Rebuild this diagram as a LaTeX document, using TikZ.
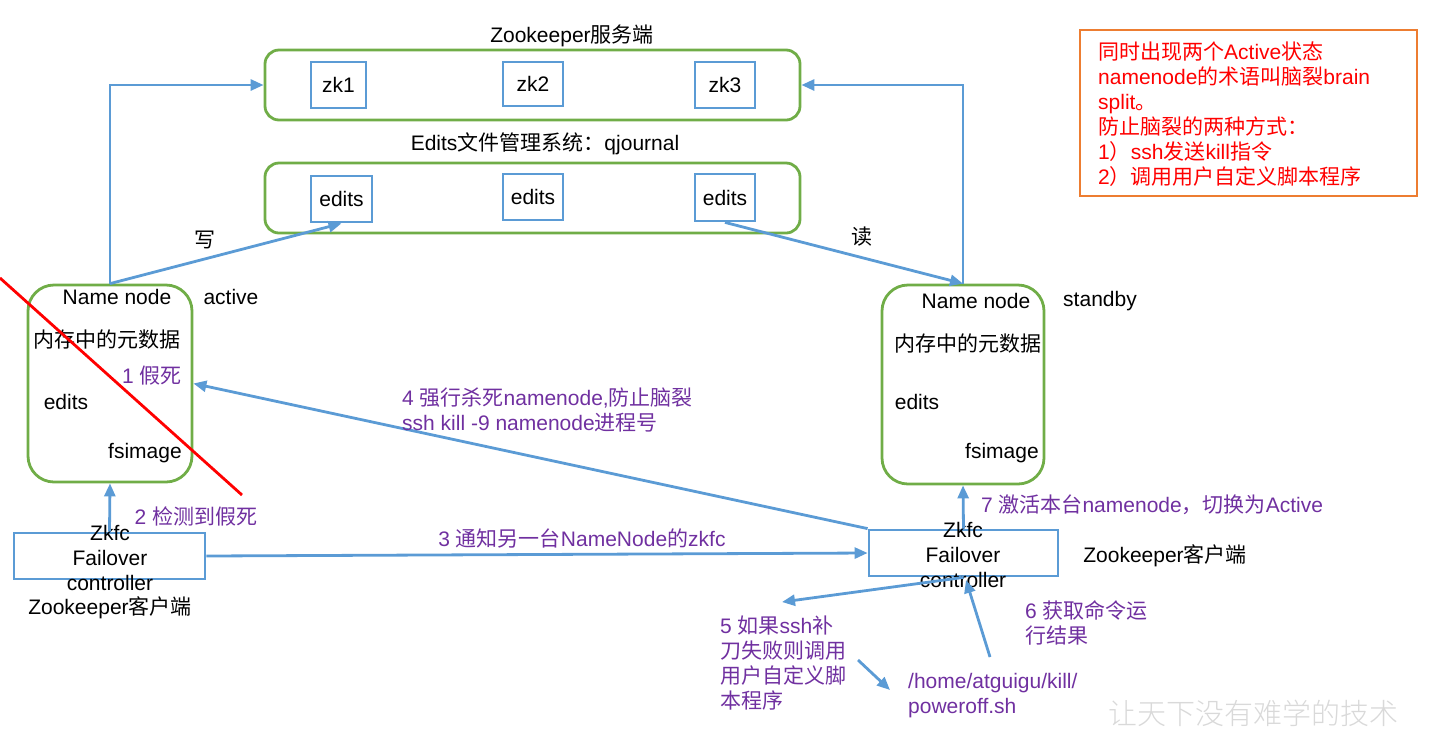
\documentclass[tikz,border=0pt]{standalone}
\usepackage{fontspec}
\setmainfont{Liberation Sans}
\newfontfamily\cjk{Noto Sans CJK SC}
\newfontfamily\cjklight{Noto Sans CJK SC Light}
\newcommand\zh[1]{{\cjk #1}}
\usetikzlibrary{arrows.meta}
\definecolor{lblue}{HTML}{5B9BD5}
\definecolor{lgreen}{HTML}{70AD47}
\definecolor{lpurple}{HTML}{7030A0}
\definecolor{lorange}{HTML}{ED7D31}
\begin{document}
\begin{tikzpicture}[x=1pt,y=-1pt,
  every node/.style={font=\fontsize{21}{25}\selectfont, inner sep=2pt},
  gbox/.style={draw=lgreen, line width=2.8pt, rounded corners=14pt},
  nnbox/.style={draw=lgreen, line width=2.8pt, rounded corners=26pt, minimum width=164pt, minimum height=197pt},
  bbox/.style={draw=lblue, line width=2.8pt},
  arr/.style={draw=lblue, line width=2.8pt, -{Triangle[length=13pt,width=11pt]}},
  ptxt/.style={text=lpurple},
  rtxt/.style={text=red}]
\useasboundingbox (0,0) rectangle (1434,732);

% Zookeeper server
\node (zktitle) at (572,36) {Zookeeper\zh{服务端}};
\node[gbox, minimum width=535pt, minimum height=70pt] (zkserv) at (532.5,85) {};
\node[bbox, minimum width=55pt, minimum height=46pt] (zk1) at (338.5,85) {zk1};
\node[bbox, minimum width=60pt, minimum height=44pt] (zk2) at (533,84) {zk2};
\node[bbox, minimum width=60pt, minimum height=46pt] (zk3) at (725,85) {zk3};

% journal
\node (jtitle) at (545,144) {Edits\zh{文件管理系统：}qjournal};
\node[gbox, minimum width=535pt, minimum height=70pt] (journal) at (532.5,198) {};
\node[bbox, minimum width=61pt, minimum height=46pt] (e1) at (341.5,199) {edits};
\node[bbox, minimum width=60pt, minimum height=46pt] (e2) at (533,197) {edits};
\node[bbox, minimum width=60pt, minimum height=47pt] (e3) at (725,197.5) {edits};

% Name nodes
\node[nnbox] (nnL) at (110,383.5) {};
\node[nnbox, minimum width=162pt, minimum height=199pt] (nnR) at (963,384.5) {};

\node (nnLa) at (117,297) {Name node};
\node (actv) at (231,297) {active};
\node (nnLb) at (107,339) {\zh{内存中的元数据}};
\node (nnLc) at (66,402) {edits};
\node (nnLd) at (145,453) {fsimage};

\node (nnRa) at (976,301) {Name node};
\node (stby) at (1100,301) {standby};
\node (nnRb) at (968,343) {\zh{内存中的元数据}};
\node (nnRc) at (917,402) {edits};
\node (nnRd) at (1002,453) {fsimage};

% red cross line
\coordinate (r1) at (0,278);
\coordinate (r2) at (242,495);
\draw[red, line width=2.8pt] (r1) -- (r2);

% zkfc boxes
\node[bbox, minimum width=191pt, minimum height=46pt] (zkfcL) at (109.5,556) {};
\node[align=center] (zkfcLt) at (110,557.5) {Zkfc\\Failover\\controller};
\node (zkcL) at (110,608) {Zookeeper\zh{客户端}};

\node[bbox, minimum width=189pt, minimum height=46pt] (zkfcR) at (963.5,553) {};
\node[align=center] (zkfcRt) at (963,555) {Zkfc\\Failover\\controller};
\node (zkcR) at (1165,556) {Zookeeper\zh{客户端}};

% connectors
\draw[arr] (nnL.north) |- (zkserv.west);
\draw[arr] (nnL.north) -- (e1.south);
\draw[arr] (nnR.north) |- (zkserv.east);
\draw[arr] (e3.south) -- (nnR.north);
\draw[arr] (zkfcL.north) -- (nnL.south);
\draw[arr] (zkfcR.north) -- (nnR.south);
\draw[arr] (zkfcL.east) -- (zkfcR.west);
\draw[arr] (zkfcR.north west) -- (nnL.east);

\node (w) at (205,240) {\zh{写}};
\node (rd) at (862,237) {\zh{读}};

% purple labels
\node[ptxt] (l1) at (152,376) {1 \zh{假死}};
\node[ptxt] (l2) at (196,516) {2 \zh{检测到假死}};
\node[ptxt] (l3) at (582,538) {3 \zh{通知另一台}NameNode\zh{的}zkfc};
\node[ptxt, align=left, anchor=west] (l4) at (400,409.5) {4 \zh{强行杀死}namenode,\zh{防止脑裂}\\ssh kill -9 namenode\zh{进程号}};
\node[ptxt] (l7) at (1152,505) {7 \zh{激活本台}namenode\zh{，切换为}Active};
\node[ptxt, align=left, anchor=west] (l5) at (718,663) {5 \zh{如果}ssh\zh{补}\\\zh{刀失败则调用}\\\zh{用户自定义脚}\\\zh{本程序}};
\node[ptxt, align=left, anchor=west] (l6) at (1023,623) {6 \zh{获取命令运}\\\zh{行结果}};
\node[ptxt, align=left, anchor=west] (pw) at (906,695.5) {/home/atguigu/kill/\\poweroff.sh};

\coordinate (c5) at (782,602);
\draw[arr] (zkfcR.south) -- (c5);
\coordinate (c5a) at (858,660);
\coordinate (c5b) at (890,690);
\draw[arr] (c5a) -- (c5b);
\coordinate (c6a) at (990,657);
\coordinate (c6b) at (966,580);
\draw[arr] (c6a) -- (c6b);

% note box
\node[draw=lorange, line width=2.8pt, minimum width=337pt, minimum height=166pt] (note) at (1248.5,113) {};
\node[rtxt, align=left, anchor=west] (notet) at (1096,114.5) {\zh{同时出现两个}Active\zh{状态}\\namenode\zh{的术语叫脑裂}brain\\split\zh{。}\\\zh{防止脑裂的两种方式：}\\1\zh{）}ssh\zh{发送}kill\zh{指令}\\2\zh{）调用用户自定义脚本程序}};

% watermark
\node[text=gray!30, font=\cjklight\fontsize{29}{30}\selectfont] (wm) at (1253,713) {让天下没有难学的技术};
\end{tikzpicture}
\end{document}
